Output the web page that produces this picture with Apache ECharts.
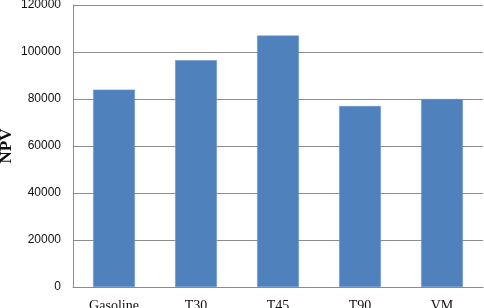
<!DOCTYPE html>
<html><head><meta charset="utf-8">
<script src="https://cdn.jsdelivr.net/npm/echarts@6/dist/echarts.min.js"></script>
<style>html,body{margin:0;padding:0;background:#fff}#c{width:484px;height:308px}</style>
</head><body><div id="c"></div>
<script>
const categories = ["Gasoline", "T30", "T45", "T90", "VM"];
const npvValues = [84000, 96500, 107000, 77000, 80000];
const yTicks = { min: 0, max: 120000, interval: 20000 };
const yName = "NPV";

const chart = echarts.init(document.getElementById('c'), null, { renderer: 'canvas' });
chart.setOption({
  animation: false,
  grid: { left: 73, right: 1, top: 5, bottom: 21, containLabel: false, outerBoundsMode: 'none' },
  xAxis: {
    type: 'category', data: categories,
    axisLine: { show: true, lineStyle: { color: '#8c8c8c', width: 1 } },
    axisTick: { show: false },
    axisLabel: { fontFamily: 'Liberation Serif', fontSize: 14, color: '#111', margin: 12 }
  },
  yAxis: {
    type: 'value', min: yTicks.min, max: yTicks.max, interval: yTicks.interval,
    name: yName, nameLocation: 'middle', nameGap: 58, nameRotate: 90, nameMoveOverlap: false,
    nameTextStyle: { fontFamily: 'Liberation Serif', fontWeight: 'bold', fontSize: 17, color: '#111' },
    axisLine: { show: true, lineStyle: { color: '#8c8c8c', width: 1 } },
    axisTick: { show: false },
    splitLine: { show: true, lineStyle: { color: '#8c8c8c', width: 1 } },
    axisLabel: { fontFamily: 'Liberation Sans', fontSize: 12, color: '#111', margin: 12,
      formatter: v => String(v) }
  },
  series: [{
    type: 'bar', data: npvValues, barWidth: '51%',
    itemStyle: { color: '#4F81BD', borderColor: '#6f97cc', borderWidth: 0.6 }
  }]
});
</script></body></html>
